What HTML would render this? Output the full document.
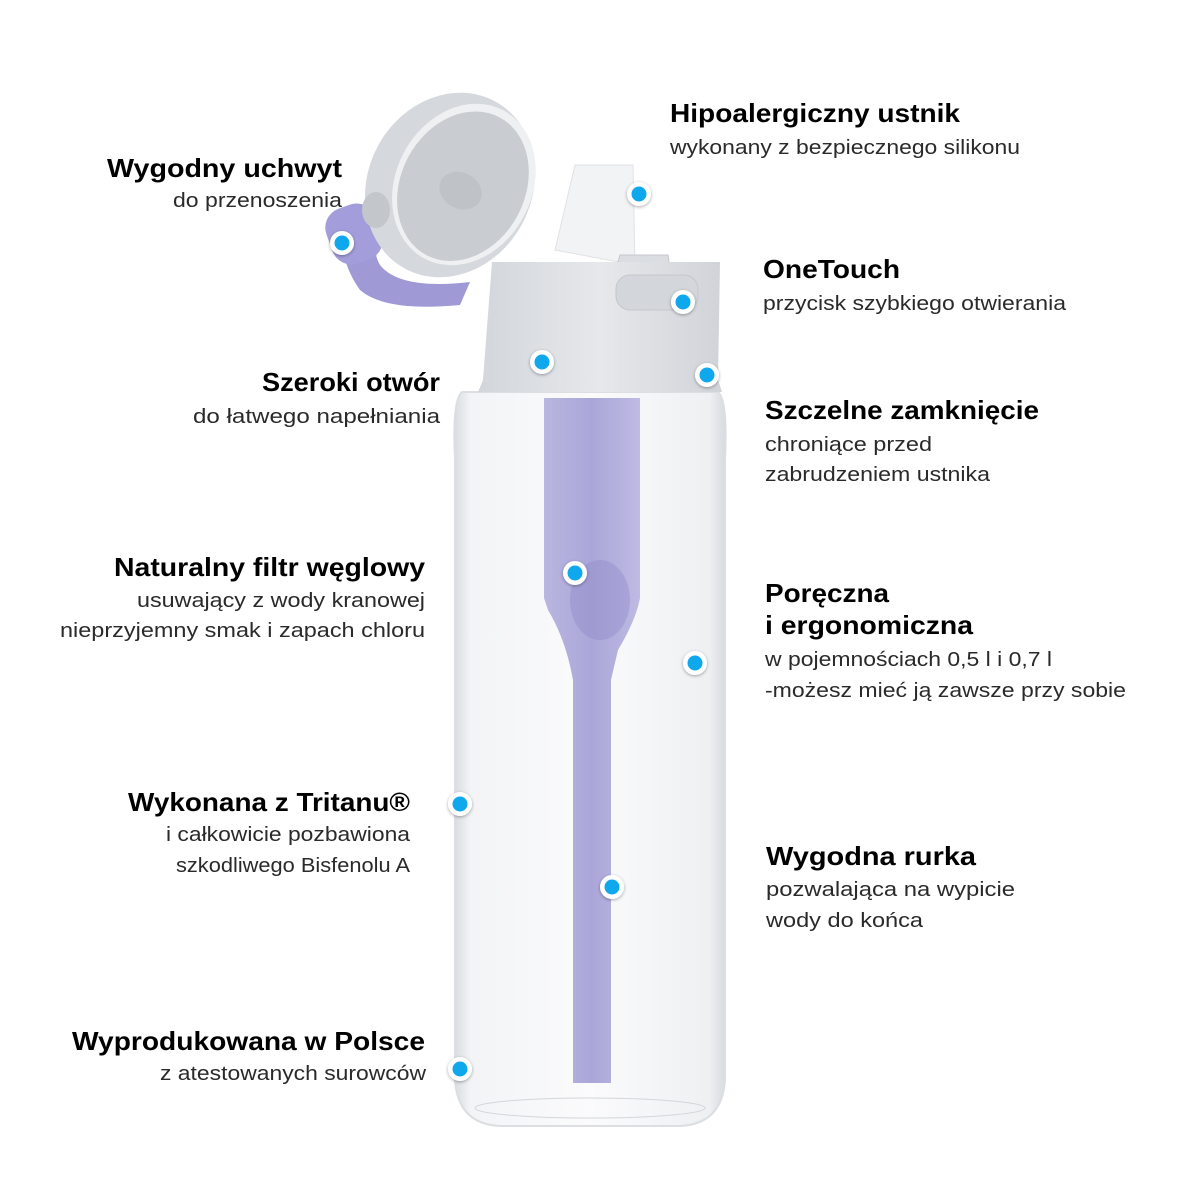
<!DOCTYPE html>
<html><head><meta charset="utf-8"><style>
html,body{margin:0;padding:0;background:#fff;}
svg{display:block}
.t{font-family:"Liberation Sans",sans-serif;font-weight:bold;font-size:26px;fill:#000}
.s{font-family:"Liberation Sans",sans-serif;font-size:20px;fill:#2a2a2a}
</style></head><body>
<svg width="1200" height="1200" viewBox="0 0 1200 1200" xmlns="http://www.w3.org/2000/svg">
<defs>
<linearGradient id="body" x1="0" x2="1" y1="0" y2="0">
<stop offset="0" stop-color="#d8dbe0"/><stop offset="0.06" stop-color="#f3f4f6"/><stop offset="0.5" stop-color="#fbfbfc"/><stop offset="0.94" stop-color="#eef0f2"/><stop offset="1" stop-color="#d6d9de"/>
</linearGradient>
<linearGradient id="cap" x1="0" x2="1"><stop offset="0" stop-color="#d2d6db"/><stop offset="0.5" stop-color="#e6e8eb"/><stop offset="1" stop-color="#d0d3d8"/></linearGradient>
<linearGradient id="filt" x1="0" x2="1"><stop offset="0" stop-color="#aeaadc"/><stop offset="0.5" stop-color="#9c97d2"/><stop offset="1" stop-color="#b4b0e0"/></linearGradient>
<filter id="sh" x="-50%" y="-50%" width="200%" height="200%"><feDropShadow dx="0" dy="1" stdDeviation="1.5" flood-opacity="0.35"/></filter>
</defs>
<!-- strap -->
<path d="M345 215 Q335 255 360 290 Q385 312 460 305 L470 282 Q400 290 380 265 Q368 245 385 205 Z" fill="#9f99d6"/>
<rect x="328" y="205" width="52" height="58" rx="20" fill="#a39ddb" transform="rotate(-20 354 234)"/>
<!-- lid -->
<g transform="rotate(28 450 185)">
<ellipse cx="450" cy="185" rx="82" ry="95" fill="#d5d8dc"/>
<ellipse cx="462" cy="178" rx="68" ry="84" fill="#eef0f2"/>
<ellipse cx="462" cy="180" rx="62" ry="78" fill="#c9ccd1"/>
<ellipse cx="462" cy="185" rx="22" ry="18" fill="#bfc3c8"/>
</g>
<ellipse cx="376" cy="210" rx="14" ry="18" fill="#c3c6cb"/>
<!-- mouthpiece -->
<path d="M555 250 L575 165 L633 165 L635 265 Z" fill="#f2f3f5" stroke="#e0e2e5"/>
<!-- body -->
<path d="M462 392 Q452 400 455 460 L455 1080 Q458 1124 500 1126 L680 1126 Q722 1124 725 1080 L725 460 Q728 400 718 392 Z" fill="url(#body)" stroke="#dcdee2" stroke-width="2"/>
<ellipse cx="590" cy="1108" rx="115" ry="10" fill="none" stroke="#d4d6da"/>
<!-- filter -->
<path d="M544 398 L640 398 L640 598 Q636 620 618 650 L611 680 L611 1083 L573 1083 L573 680 Q566 640 548 610 L544 598 Z" fill="url(#filt)" opacity="0.85"/>
<ellipse cx="600" cy="600" rx="30" ry="40" fill="#8f89c9" opacity="0.4"/>
<!-- cap -->
<path d="M616 268 L620 255 L668 255 L672 280 Z" fill="#dadde1" stroke="#c5c8cd"/>
<path d="M492 262 L720 262 L718 380 L722 392 L478 392 L483 380 Z" fill="url(#cap)"/>
<rect x="616" y="275" width="82" height="35" rx="14" fill="#d3d6da" stroke="#c4c7cc"/>
<!-- text -->
<text class="t" x="342" y="177" text-anchor="end" textLength="235" lengthAdjust="spacingAndGlyphs">Wygodny uchwyt</text>
<text class="s" x="342" y="207" text-anchor="end" textLength="169" lengthAdjust="spacingAndGlyphs">do przenoszenia</text>
<text class="t" x="670" y="122" textLength="290" lengthAdjust="spacingAndGlyphs">Hipoalergiczny ustnik</text>
<text class="s" x="670" y="154" textLength="350" lengthAdjust="spacingAndGlyphs">wykonany z bezpiecznego silikonu</text>
<text class="t" x="763" y="278" textLength="137" lengthAdjust="spacingAndGlyphs">OneTouch</text>
<text class="s" x="763" y="310" textLength="303" lengthAdjust="spacingAndGlyphs">przycisk szybkiego otwierania</text>
<text class="t" x="440" y="391" text-anchor="end" textLength="178" lengthAdjust="spacingAndGlyphs">Szeroki otwór</text>
<text class="s" x="440" y="423" text-anchor="end" textLength="247" lengthAdjust="spacingAndGlyphs">do łatwego napełniania</text>
<text class="t" x="765" y="419" textLength="274" lengthAdjust="spacingAndGlyphs">Szczelne zamknięcie</text>
<text class="s" x="765" y="451" textLength="167" lengthAdjust="spacingAndGlyphs">chroniące przed</text>
<text class="s" x="765" y="481" textLength="225" lengthAdjust="spacingAndGlyphs">zabrudzeniem ustnika</text>
<text class="t" x="425" y="576" text-anchor="end" textLength="311" lengthAdjust="spacingAndGlyphs">Naturalny filtr węglowy</text>
<text class="s" x="425" y="607" text-anchor="end" textLength="288" lengthAdjust="spacingAndGlyphs">usuwający z wody kranowej</text>
<text class="s" x="425" y="637" text-anchor="end" textLength="365" lengthAdjust="spacingAndGlyphs">nieprzyjemny smak i zapach chloru</text>
<text class="t" x="765" y="602" textLength="124" lengthAdjust="spacingAndGlyphs">Poręczna</text>
<text class="t" x="765" y="634" textLength="208" lengthAdjust="spacingAndGlyphs">i ergonomiczna</text>
<text class="s" x="765" y="666" textLength="287" lengthAdjust="spacingAndGlyphs">w pojemnościach 0,5 l i 0,7 l</text>
<text class="s" x="765" y="697" textLength="361" lengthAdjust="spacingAndGlyphs">-możesz mieć ją zawsze przy sobie</text>
<text class="t" x="410" y="811" text-anchor="end" textLength="282" lengthAdjust="spacingAndGlyphs">Wykonana z Tritanu®</text>
<text class="s" x="410" y="841" text-anchor="end" textLength="244" lengthAdjust="spacingAndGlyphs">i całkowicie pozbawiona</text>
<text class="s" x="410" y="872" text-anchor="end" textLength="234" lengthAdjust="spacingAndGlyphs">szkodliwego Bisfenolu A</text>
<text class="t" x="766" y="865" textLength="210" lengthAdjust="spacingAndGlyphs">Wygodna rurka</text>
<text class="s" x="766" y="896" textLength="249" lengthAdjust="spacingAndGlyphs">pozwalająca na wypicie</text>
<text class="s" x="766" y="927" textLength="157" lengthAdjust="spacingAndGlyphs">wody do końca</text>
<text class="t" x="425" y="1050" text-anchor="end" textLength="353" lengthAdjust="spacingAndGlyphs">Wyprodukowana w Polsce</text>
<text class="s" x="426" y="1080" text-anchor="end" textLength="266" lengthAdjust="spacingAndGlyphs">z atestowanych surowców</text>
<!-- dots -->
<g filter="url(#sh)">
<g fill="#fff">
<circle cx="342" cy="243" r="12"/><circle cx="639" cy="194" r="12"/><circle cx="683" cy="302" r="12"/><circle cx="542" cy="362" r="12"/><circle cx="707" cy="375" r="12"/><circle cx="575" cy="573" r="12"/><circle cx="695" cy="663" r="12"/><circle cx="460" cy="804" r="12"/><circle cx="612" cy="887" r="12"/><circle cx="460" cy="1069" r="12"/>
</g></g>
<g fill="#10a8ec">
<circle cx="342" cy="243" r="7.5"/><circle cx="639" cy="194" r="7.5"/><circle cx="683" cy="302" r="7.5"/><circle cx="542" cy="362" r="7.5"/><circle cx="707" cy="375" r="7.5"/><circle cx="575" cy="573" r="7.5"/><circle cx="695" cy="663" r="7.5"/><circle cx="460" cy="804" r="7.5"/><circle cx="612" cy="887" r="7.5"/><circle cx="460" cy="1069" r="7.5"/>
</g>
</svg>
</body></html>
